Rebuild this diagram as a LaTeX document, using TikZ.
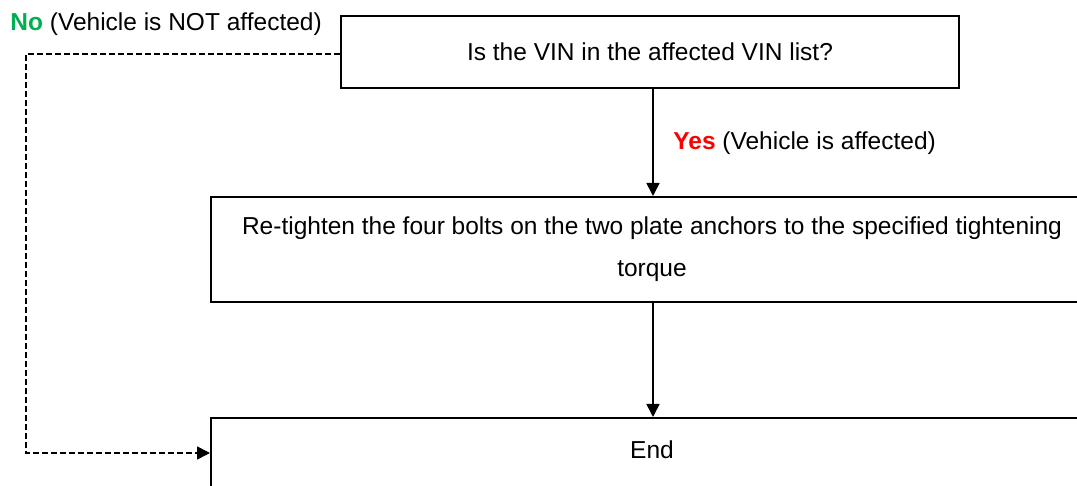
\documentclass[tikz,border=0pt]{standalone}
\usepackage{fontspec}
\setmainfont{Liberation Sans}
\usepackage{xcolor}
\usetikzlibrary{arrows.meta}
\definecolor{nogreen}{RGB}{0,176,80}
\definecolor{yesred}{RGB}{255,0,0}

\begin{document}
\begin{tikzpicture}[x=0.5pt,y=-0.5pt,font=\fontsize{12.25}{21}\selectfont,
   stepbox/.style={draw,line width=1pt,rectangle,inner sep=0pt,align=center},
   flow/.style={line width=0.8pt,-{Triangle[length=6.5pt,width=6.5pt]}},
   nopath/.style={flow,dash pattern=on 3pt off 1.5pt},
   branch/.style={inner sep=0pt}]
\useasboundingbox (0,0) rectangle (1077,486);
\clip (0,0) rectangle (1077,486);
\node[stepbox,minimum width=309pt,minimum height=36pt] (check) at (650,52)
   {Is the VIN in the affected VIN list?};
\node[stepbox,minimum width=441pt,minimum height=52.5pt] (retighten) at (652,249.5)
   {Re-tighten the four bolts on the two plate anchors to the specified tightening\\torque};
\node[stepbox,minimum width=441pt,minimum height=35pt,text depth=3pt] (finish) at (652,453)
   {End};
\coordinate (bend) at (26,54);
\coordinate (drop) at (653,0);
\draw[flow] (drop |- check.south) -- (drop |- retighten.north);
\draw[flow] (drop |- retighten.south) -- (drop |- finish.north);
\draw[nopath] (check.west |- bend) -- (bend) |- (finish.west);
\node[branch,anchor=base west] (nolabel) at (10,31)
   {\textbf{\color{nogreen}No} (Vehicle is NOT affected)};
\node[branch,anchor=base west] (yeslabel) at (673,150)
   {\textbf{\color{yesred}Yes} (Vehicle is affected)};
\end{tikzpicture}
\end{document}
